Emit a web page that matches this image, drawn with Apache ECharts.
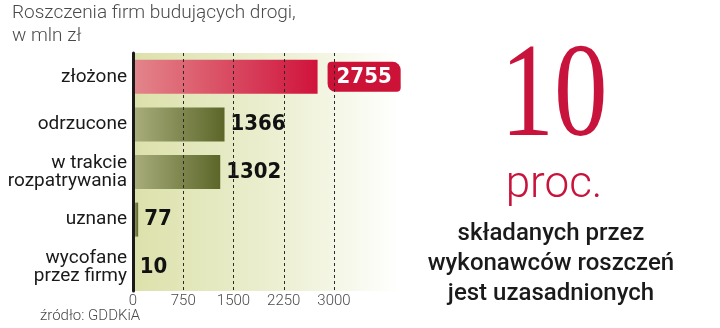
<!DOCTYPE html>
<html>
<head>
<meta charset="utf-8">
<script src="https://cdn.jsdelivr.net/npm/echarts@6/dist/echarts.min.js"></script>
<style>
html,body{margin:0;padding:0;background:#fff;}
#c{width:720px;height:328px;}
</style>
</head>
<body>
<div id="c"></div>
<script>
const categories = ['złożone', 'odrzucone', 'w trakcie\nrozpatrywania', 'uznane', 'wycofane\nprzez firmy'];
const values = [2755, 1366, 1302, 77, 10];
const tickValues = [0, 750, 1500, 2250, 3000];
const titleText = 'Roszczenia firm budujących drogi,\nw mln zł';
const sourceText = 'źródło: GDDKiA';
const bigNumber = '10';
const bigUnit = 'proc.';
const sideText = 'składanych przez\nwykonawców roszczeń\njest uzasadnionych';

const chart = echarts.init(document.getElementById('c'), null, {renderer: 'canvas'});

const redGrad = new echarts.graphic.LinearGradient(0, 0, 1, 0, [
  {offset: 0, color: '#e3868b'},
  {offset: 1, color: '#d0133b'}
]);
const oliveGrad = new echarts.graphic.LinearGradient(0, 0, 1, 0, [
  {offset: 0, color: '#a9ae7c'},
  {offset: 1, color: '#5c6629'}
]);

const data = values.map((v, i) => {
  if (i === 0) {
    return {
      value: v,
      itemStyle: {color: redGrad},
      label: {
        color: '#fff',
        backgroundColor: '#cc1236',
        borderRadius: [4, 8, 4, 8],
        padding: [5, 9, 3, 9],
        distance: 10
      }
    };
  }
  return {value: v, itemStyle: {color: oliveGrad}};
});

chart.setOption({
  animation: false,
  graphic: [
    {
      type: 'rect', z: -10, silent: true,
      shape: {x: 133, y: 53, width: 267, height: 238},
      style: {
        fill: new echarts.graphic.LinearGradient(0, 0, 1, 0, [
          {offset: 0, color: '#dce1ab'},
          {offset: 0.6, color: '#eef1d6'},
          {offset: 1, color: '#ffffff'}
        ])
      }
    },
    {
      type: 'text', left: 12, top: 2,
      style: {text: titleText, font: '300 19px Roboto', fill: '#4a4a4a', lineHeight: 23}
    },
    {
      type: 'text', left: 40, top: 309,
      style: {text: sourceText, font: '300 15px Roboto', fill: '#4a4a4a'}
    },
    {
      type: 'text', x: 554, y: 167, scaleX: 0.8, originX: 0, originY: 0,
      style: {text: bigNumber, font: '134px "Liberation Serif"', fill: '#c8143c', textAlign: 'center', textVerticalAlign: 'bottom'}
    },
    {
      type: 'text', x: 554, y: 208,
      style: {text: bigUnit, font: '300 44px Roboto', fill: '#c8143c', textAlign: 'center', textVerticalAlign: 'bottom'}
    },
    {
      type: 'text', x: 551, y: 219,
      style: {text: sideText, font: '500 24px Roboto', fill: '#1a1a1a', textAlign: 'center', lineHeight: 30}
    }
  ],
  grid: {left: 133, top: 53, width: 201, height: 238},
  xAxis: {
    type: 'value', min: 0, max: 3000, interval: 750, z: 5,
    axisLine: {show: false},
    axisTick: {show: false},
    axisLabel: {color: '#4a4a4a', fontSize: 15, fontFamily: 'Roboto', fontWeight: 300, margin: 3,
      formatter: v => tickValues.includes(v) ? String(v) : ''},
    splitLine: {show: true, lineStyle: {color: '#2a2a2a', width: 1, type: [3, 3]}}
  },
  yAxis: {
    type: 'category', data: categories, inverse: true, z: 6,
    axisLine: {show: true, lineStyle: {color: '#1a1a1a', width: 3}},
    axisTick: {show: false},
    axisLabel: {color: '#1a1a1a', fontSize: 19, fontFamily: 'Roboto', lineHeight: 18, margin: 6, align: 'right'}
  },
  series: [{
    type: 'bar', data: data, barWidth: 34, z: 2,
    label: {
      show: true, position: 'right', distance: 6,
      color: '#111', fontFamily: '"DejaVu Sans Condensed"', fontWeight: 'bold', fontSize: 22
    }
  }]
});
</script>
</body>
</html>
